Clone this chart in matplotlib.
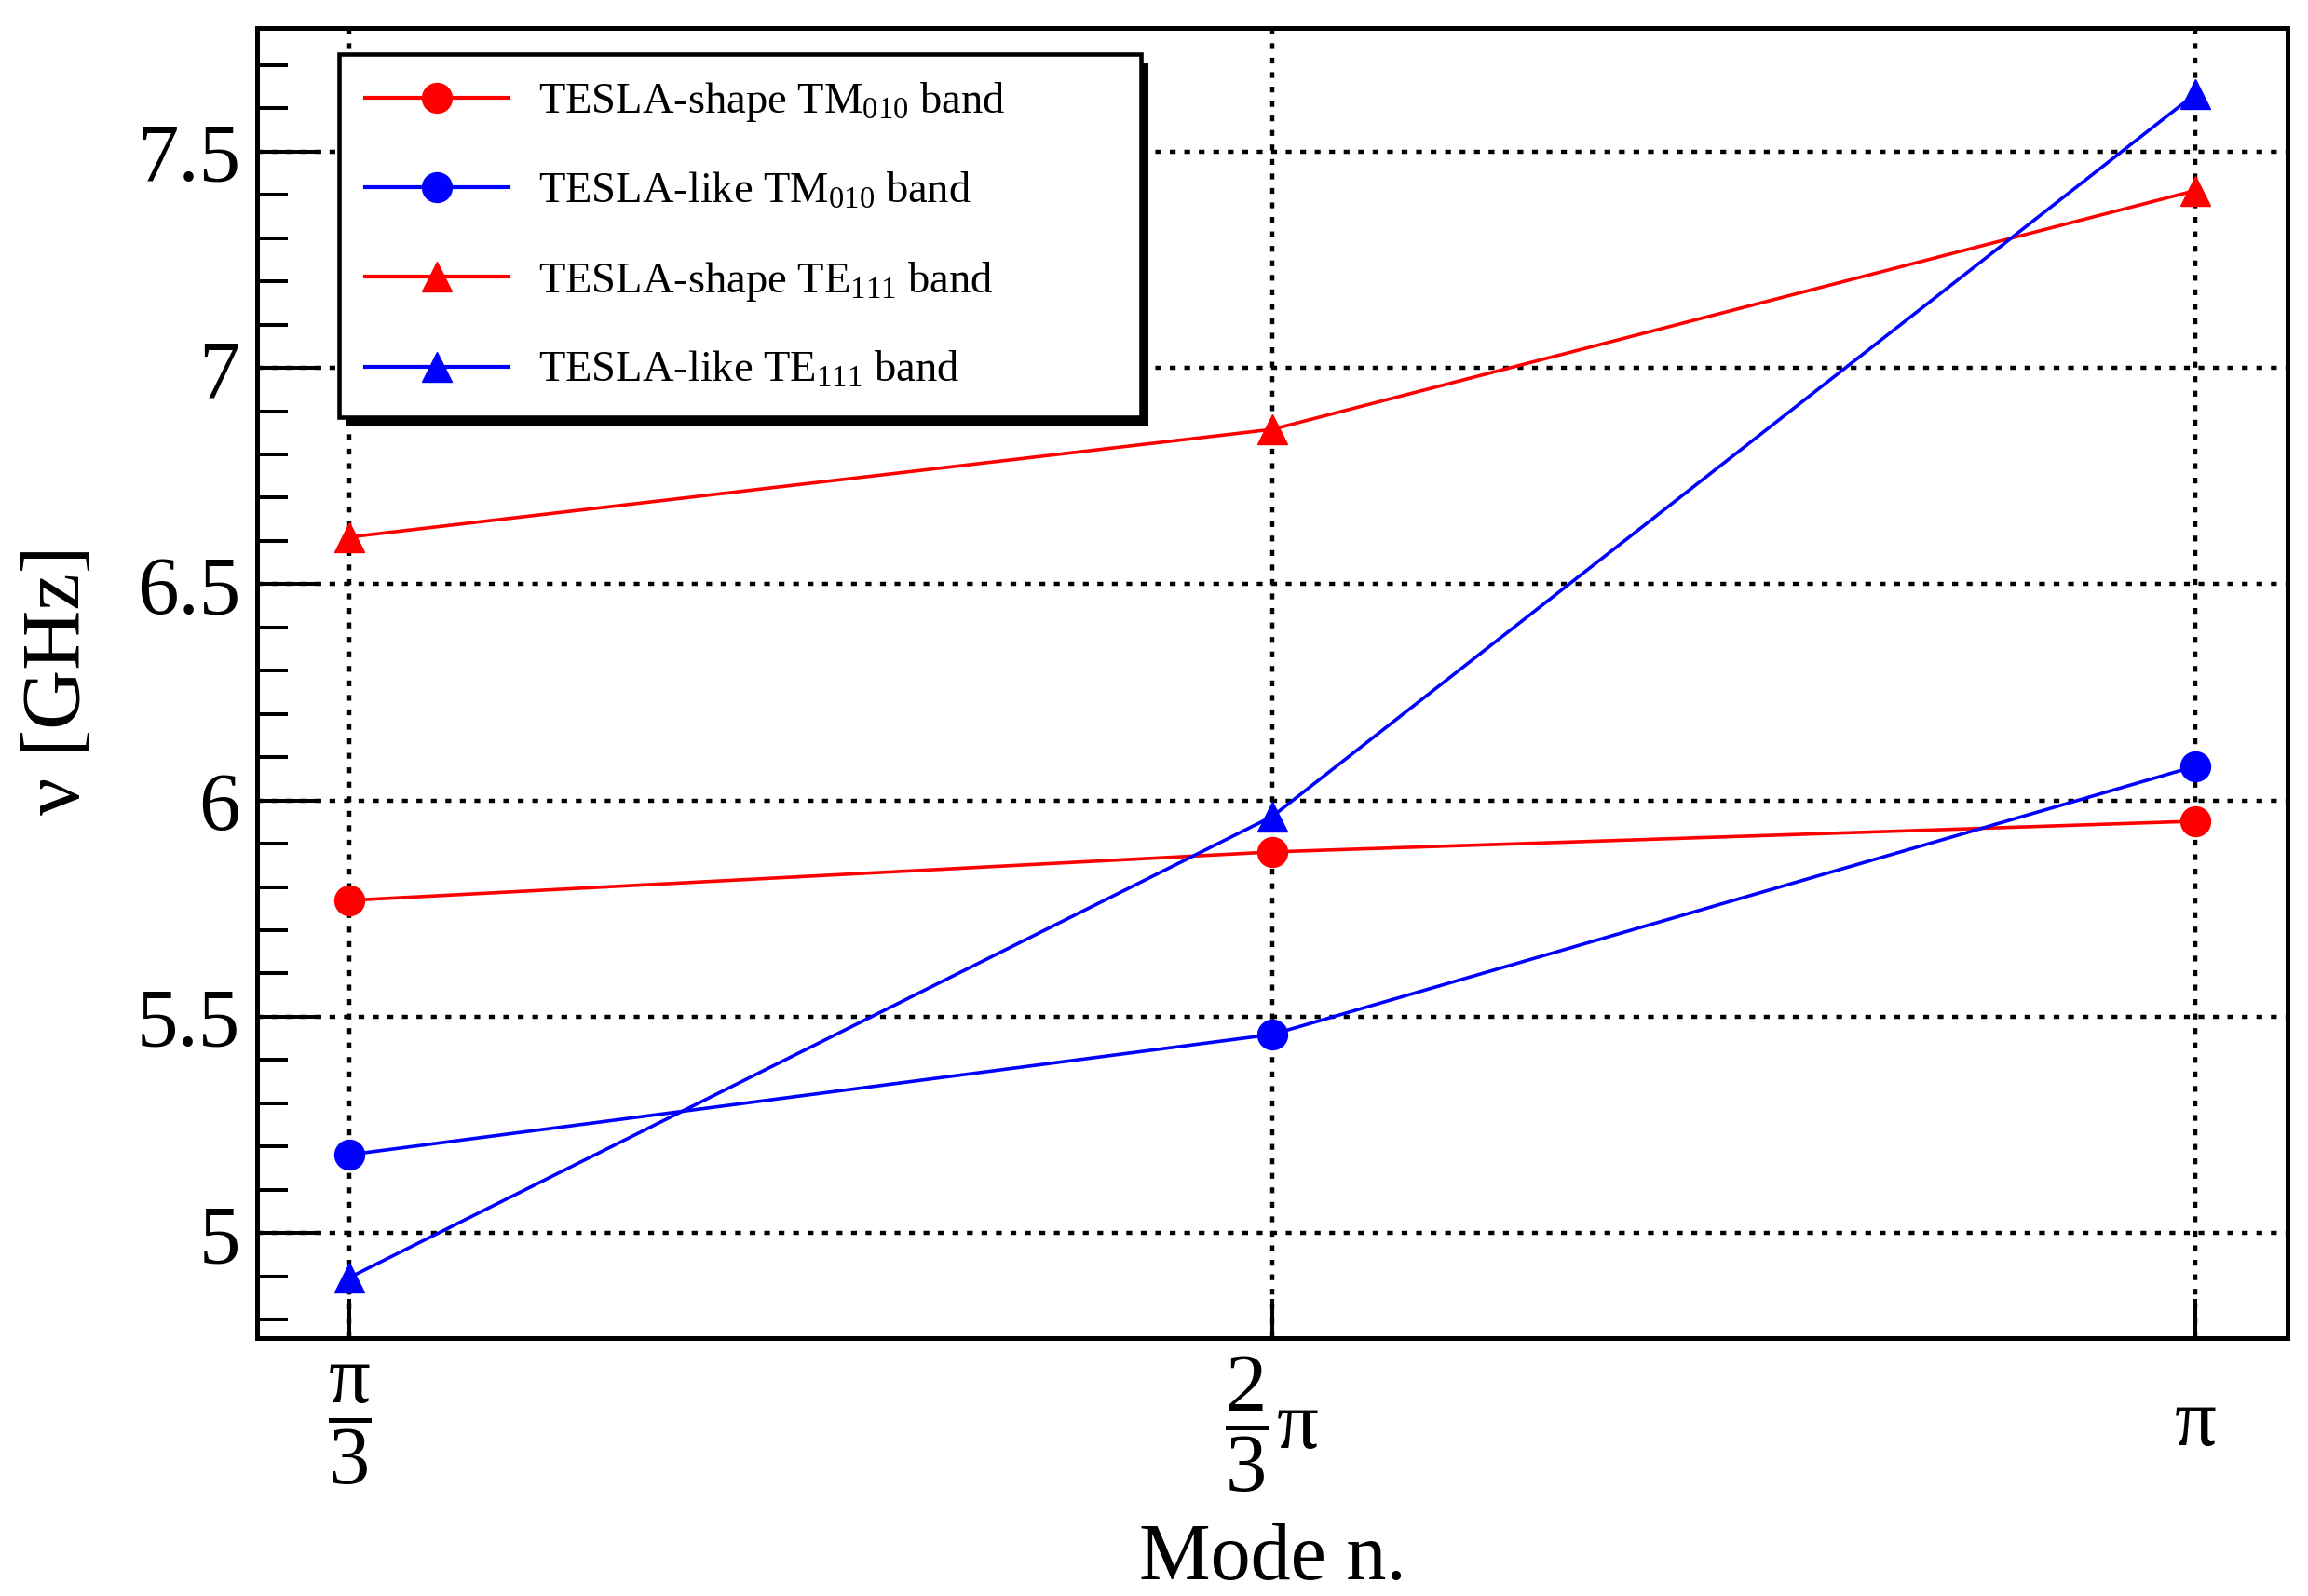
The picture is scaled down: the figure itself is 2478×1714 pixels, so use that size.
import matplotlib
matplotlib.use('Agg')
import matplotlib.pyplot as plt
from matplotlib.ticker import MultipleLocator
from matplotlib.patches import Rectangle

# mode positions and labels
modes = [1, 2, 3]
mode_labels = [r'$\dfrac{\mathrm{π}}{3}$', r'$\dfrac{2}{3}\mathrm{π}$', r'$\mathrm{π}$']

# frequencies [GHz]
shape_tm010 = [5.769, 5.881, 5.952]
like_tm010 = [5.181, 5.459, 6.079]
shape_te111 = [6.609, 6.858, 7.410]
like_te111 = [4.897, 5.963, 7.633]

plt.rcParams['font.family'] = ['Liberation Serif', 'DejaVu Serif']
plt.rcParams['mathtext.fontset'] = 'custom'
plt.rcParams['mathtext.rm'] = 'Liberation Serif'
plt.rcParams['mathtext.it'] = 'Liberation Serif:italic'
plt.rcParams['mathtext.bf'] = 'Liberation Serif:bold'

fig = plt.figure(figsize=(24.78, 17.14), dpi=100)
ax = fig.add_axes([0.1114, 0.1616, 0.8797, 0.8209])

lw = 2.6
ms = 23
ax.plot(modes, shape_tm010, color='#ff0000', lw=lw, marker='o', ms=ms, label='TESLA-shape TM$_{010}$ band')
ax.plot(modes, like_tm010, color='#0000ff', lw=lw, marker='o', ms=ms, label='TESLA-like TM$_{010}$ band')
ax.plot(modes, shape_te111, color='#ff0000', lw=lw, marker='^', ms=ms, label='TESLA-shape TE$_{111}$ band')
ax.plot(modes, like_te111, color='#0000ff', lw=lw, marker='^', ms=ms, label='TESLA-like TE$_{111}$ band')

ax.set_xlim(0.9, 3.1)
ax.set_ylim(4.757, 7.786)
ax.set_xticks(modes)
ax.set_xticklabels(mode_labels)
ax.yaxis.set_minor_locator(MultipleLocator(0.1))
ax.set_yticks([5, 5.5, 6, 6.5, 7, 7.5])
ax.set_yticklabels(['5', '5.5', '6', '6.5', '7', '7.5'])

ax.tick_params(axis='y', which='major', direction='in', length=50, width=2.9,
               labelsize=64, pad=13, right=False)
ax.tick_params(axis='y', which='minor', direction='in', length=24, width=2.9, right=False)
ax.tick_params(axis='x', which='major', direction='in', length=30, width=2.9,
               labelsize=64, pad=67, top=False)
for lbl in ax.get_xticklabels():
    lbl.set_va('center')

for sp in ax.spines.values():
    sp.set_linewidth(3.6)

# dotted grid on the major ticks
ax.grid(True, which='major', color='k', linestyle=(0, (1.4, 2.1)), linewidth=3.2)

ax.set_xlabel('Mode n.', fontsize=62)
ax.xaxis.label.set_va('baseline')
ax.xaxis.set_label_coords(0.5, -0.184)
ax.set_ylabel('ν [GHz]', fontsize=64)
ax.yaxis.label.set_va('baseline')
ax.yaxis.set_label_coords(-0.0876, 0.5025)

leg = ax.legend(loc='upper left', bbox_to_anchor=(0.0404, 0.5, 0.3949, 0.4801),
                mode='expand', borderaxespad=0, fontsize=33.5, handlelength=3.3,
                handletextpad=0.7, borderpad=0.6, labelspacing=1.1,
                frameon=True, fancybox=False, edgecolor='k', framealpha=1)
leg.get_frame().set_linewidth(3.3)
for h in leg.get_lines():
    h.set_linewidth(3.0)

# black drop shadow behind the legend box
fig.canvas.draw()
bb = leg.get_frame().get_window_extent()
(x0, y0), (x1, y1) = ax.transAxes.inverted().transform([[bb.x0 + 8, bb.y0 - 10], [bb.x1 + 8, bb.y1 - 10]])
ax.add_patch(Rectangle((x0, y0), x1 - x0, y1 - y0, transform=ax.transAxes,
                       facecolor='k', edgecolor='none', zorder=4.9, clip_on=False))

fig.savefig('out.png', dpi=100)
